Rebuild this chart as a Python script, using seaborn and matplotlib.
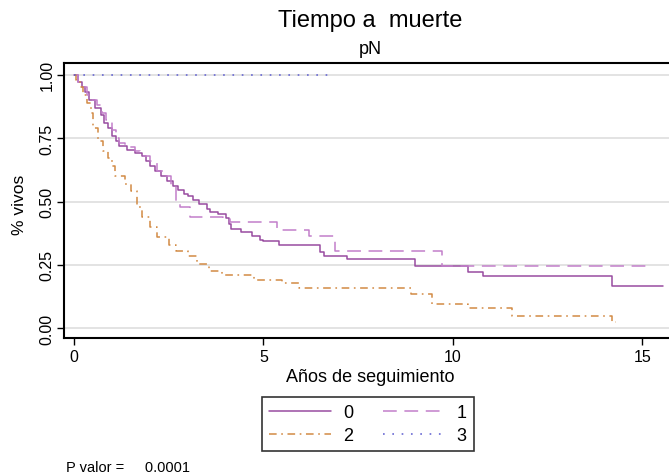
import matplotlib
matplotlib.use("Agg")
import matplotlib.pyplot as plt
from matplotlib.lines import Line2D
import seaborn as sns
import pandas as pd

# ---- data ----
groups = ["0", "1", "2", "3"]

t_g0 = [0, 0.1, 0.2, 0.3, 0.4, 0.55, 0.7, 0.8, 0.9, 1.0, 1.1, 1.2, 1.4, 1.6, 1.8, 1.9, 2.0,
        2.15, 2.3, 2.45, 2.6, 2.75, 2.9, 3.0, 3.15, 3.3, 3.5, 3.6, 3.8, 4.0, 4.1, 4.15, 4.4,
        4.7, 4.9, 5.0, 5.4, 6.5, 6.6, 7.2, 9.0, 10.4, 10.8, 14.2, 15.55]
s_g0 = [1.0, 0.97, 0.95, 0.93, 0.90, 0.87, 0.84, 0.81, 0.79, 0.76, 0.74, 0.72, 0.705, 0.69,
        0.68, 0.66, 0.64, 0.62, 0.60, 0.58, 0.56, 0.545, 0.53, 0.52, 0.505, 0.49, 0.47, 0.46,
        0.45, 0.435, 0.41, 0.39, 0.38, 0.365, 0.35, 0.345, 0.33, 0.30, 0.285, 0.273, 0.247,
        0.223, 0.206, 0.166, 0.166]

t_g1 = [0, 0.1, 0.25, 0.35, 0.45, 0.6, 0.75, 0.85, 1.0, 1.1, 1.2, 1.35, 1.6, 1.75, 2.0, 2.2,
        2.4, 2.55, 2.7, 2.8, 3.06, 3.93, 4.12, 5.36, 6.2, 6.9, 9.7, 15.2]
s_g1 = [1.0, 0.97, 0.95, 0.92, 0.90, 0.88, 0.85, 0.82, 0.78, 0.75, 0.73, 0.715, 0.70, 0.68,
        0.66, 0.62, 0.60, 0.56, 0.50, 0.48, 0.44, 0.43, 0.42, 0.387, 0.365, 0.305, 0.247, 0.247]

t_g2 = [0, 0.05, 0.15, 0.25, 0.35, 0.45, 0.5, 0.63, 0.77, 0.9, 1.0, 1.08, 1.35, 1.5, 1.66,
        1.8, 2.0, 2.2, 2.5, 2.7, 3.0, 3.25, 3.55, 3.9, 4.75, 5.5, 5.95, 8.9, 9.45, 10.4,
        11.55, 14.2, 14.3]
s_g2 = [1.0, 0.98, 0.95, 0.92, 0.89, 0.85, 0.79, 0.74, 0.70, 0.67, 0.64, 0.60, 0.57, 0.54,
        0.48, 0.44, 0.40, 0.36, 0.33, 0.305, 0.285, 0.253, 0.226, 0.21, 0.19, 0.18, 0.16,
        0.135, 0.096, 0.08, 0.049, 0.025, 0.025]

t_g3 = [0, 6.75]
s_g3 = [1.0, 1.0]

x_ticks = [0, 5, 10, 15]
y_ticks = [0.0, 0.25, 0.5, 0.75, 1.0]
y_ticklabels = ["0.00", "0.25", "0.50", "0.75", "1.00"]

colors = {"0": "#984ca0", "1": "#c27fca", "2": "#d28a44", "3": "#5c5cd0"}
dashes = {"0": "", "1": (9, 5), "2": (5, 3, 1.1, 3), "3": (1.1, 5)}
line_w = 1.1

# ---- build long table ----
frames = []
for g, t, s in [("0", t_g0, s_g0), ("1", t_g1, s_g1), ("2", t_g2, s_g2), ("3", t_g3, s_g3)]:
    frames.append(pd.DataFrame({"t": t, "s": s, "g": g}))
df = pd.concat(frames, ignore_index=True)

sns.set_style("white")
plt.rcParams["font.family"] = ["Liberation Sans", "DejaVu Sans"]
plt.rcParams["text.color"] = "black"
plt.rcParams["xtick.color"] = "black"
plt.rcParams["ytick.color"] = "black"
plt.rcParams["axes.labelcolor"] = "black"

fig = plt.figure(figsize=(6.69, 4.77), dpi=100)
ax = fig.add_axes([64 / 669, 1 - 339 / 477, 1 - 64 / 669, (339 - 64) / 477])

for yv in y_ticks:
    ax.axhline(yv, color="#e0e0e0", lw=1.3, zorder=0)

sns.lineplot(data=df, x="t", y="s", hue="g", style="g", palette=colors, dashes=dashes,
             drawstyle="steps-post", estimator=None, sort=False, lw=line_w, legend=False, ax=ax)

ax.set_xlim(-0.264, 15.70)
ax.set_ylim(-0.038, 1.046)
ax.set_xticks(x_ticks)
ax.set_xticklabels([str(v) for v in x_ticks])
ax.set_yticks(y_ticks)
ax.set_yticklabels(y_ticklabels, rotation=90, va="center")
ax.set_xlabel("")
ax.set_ylabel("")
ax.tick_params(axis="both", which="both", direction="out", length=5, width=1,
               labelsize=11.5, color="black", labelcolor="black", left=True, bottom=True)
ax.tick_params(axis="x", pad=3)
ax.tick_params(axis="y", pad=2)
for side in ["left", "bottom", "top"]:
    ax.spines[side].set_color("black")
    ax.spines[side].set_linewidth(1.5)
ax.spines["right"].set_visible(False)

fig.text(370 / 669, 1 - 21 / 477, "Tiempo a  muerte", ha="center", va="center", fontsize=17,
         color="black")
fig.text(370 / 669, 1 - 50 / 477, "pN", ha="center", va="center", fontsize=13, color="black")
fig.text(370 / 669, 1 - 378 / 477, "Años de seguimiento", ha="center", va="center",
         fontsize=13, color="black")
fig.text(20 / 669, 1 - 205 / 477, "% vivos", ha="center", va="center", rotation=90,
         fontsize=12.5, color="black")
fig.text(66 / 669, 1 - 468 / 477, "P valor =     0.0001", ha="left", va="center",
         fontsize=10.5, color="black")

handles = {}
for g in groups:
    h = Line2D([0], [0], color=colors[g], lw=line_w)
    if dashes[g]:
        h.set_dashes(dashes[g])
    handles[g] = h
order = ["0", "2", "1", "3"]
leg = fig.legend([handles[g] for g in order], order, loc="center",
                 bbox_to_anchor=(368 / 669, 1 - 425 / 477), ncol=2, frameon=True,
                 fancybox=False, edgecolor="black", fontsize=13, handlelength=3.4,
                 handletextpad=0.7, columnspacing=1.6, labelspacing=0.35, borderpad=0.4)
leg.get_frame().set_linewidth(1.2)
for txt in leg.get_texts():
    txt.set_color("black")

fig.savefig("out.png", dpi=100)
